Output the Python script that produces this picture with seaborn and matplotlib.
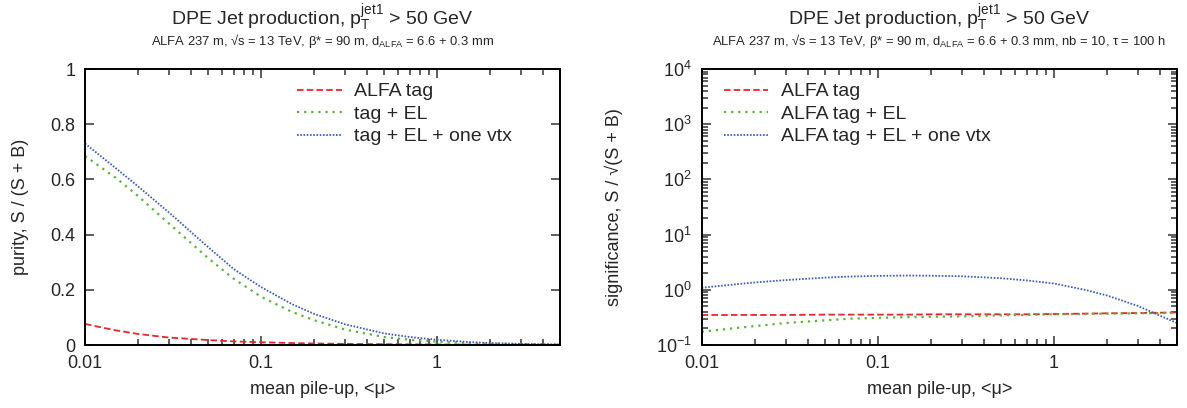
import numpy as np
import pandas as pd
import matplotlib
matplotlib.use("Agg")
import matplotlib.pyplot as plt
from matplotlib.ticker import FixedLocator, FuncFormatter, LogLocator, NullFormatter
import seaborn as sns

# mean pile-up values (x)
mu = [0.01, 0.015, 0.02, 0.03, 0.05, 0.07, 0.1, 0.15, 0.2, 0.3,
      0.5, 0.7, 1.0, 1.5, 2.0, 3.0, 4.0, 5.0]

# purity, S / (S + B)
purity_tag = [0.076, 0.053, 0.040, 0.027, 0.018, 0.013, 0.010, 0.007, 0.0055, 0.004,
              0.003, 0.0025, 0.002, 0.0015, 0.001, 0.0008, 0.0006, 0.0005]
purity_el = [0.685, 0.605, 0.54, 0.44, 0.315, 0.24, 0.175, 0.12, 0.09, 0.056,
             0.029, 0.019, 0.012, 0.007, 0.005, 0.003, 0.002, 0.0015]
purity_vtx = [0.73, 0.64, 0.575, 0.48, 0.355, 0.275, 0.21, 0.148, 0.113, 0.075,
              0.042, 0.029, 0.019, 0.011, 0.007, 0.004, 0.0028, 0.002]

# significance, S / sqrt(S + B)
signif_tag = [0.35, 0.35, 0.35, 0.35, 0.355, 0.355, 0.355, 0.355, 0.36, 0.36,
              0.36, 0.36, 0.365, 0.37, 0.375, 0.38, 0.385, 0.39]
signif_el = [0.174, 0.20, 0.22, 0.25, 0.28, 0.30, 0.31, 0.32, 0.325, 0.33,
             0.345, 0.35, 0.36, 0.365, 0.37, 0.375, 0.378, 0.38]
signif_vtx = [1.09, 1.24, 1.36, 1.50, 1.66, 1.74, 1.79, 1.81, 1.80, 1.76,
              1.62, 1.48, 1.30, 1.00, 0.79, 0.51, 0.34, 0.25]

left_labels = ["ALFA tag", "tag + EL", "tag + EL + one vtx"]
right_labels = ["ALFA tag", "ALFA tag + EL", "ALFA tag + EL + one vtx"]

title = r"DPE Jet production, p$_\mathrm{T}^\mathrm{jet1}$ > 50 GeV"
sub_left = r"ALFA 237 m, √s = 13 TeV, β* = 90 m, d$_\mathrm{ALFA}$ = 6.6 + 0.3 mm"
sub_right = sub_left + ", nb = 10, τ = 100 h"

colors = ["#e8262b", "#5db33a", "#3a5bb8"]
styles = [(0, (3.6, 1.8)), (0, (1.0, 2.2)), (0, (0.9, 0.9))]
widths = [1.3, 1.6, 1.3]

sns.set_style("ticks")
plt.rcParams["font.family"] = ["Liberation Sans", "DejaVu Sans"]
plt.rcParams["mathtext.fontset"] = "custom"
plt.rcParams["mathtext.rm"] = "Liberation Sans"
plt.rcParams["mathtext.it"] = "Liberation Sans:italic"

fig = plt.figure(figsize=(11.87, 4.08), dpi=100)
ax1 = fig.add_axes([85 / 1187, 63 / 408, 475 / 1187, 276 / 408])
ax2 = fig.add_axes([701.7 / 1187, 63 / 408, 475.3 / 1187, 276 / 408])


def draw(ax, series, labels):
    for vals, lab, col, ls, lw in zip(series, labels, colors, styles, widths):
        df = pd.DataFrame({"mu": mu, "val": vals})
        sns.lineplot(data=df, x="mu", y="val", ax=ax, color=col, linestyle=ls,
                     linewidth=lw, label=lab, estimator=None, sort=True)
    ax.set_xscale("log")
    ax.set_xlim(0.01, 5)
    ax.xaxis.set_major_locator(FixedLocator([0.01, 0.1, 1]))
    ax.xaxis.set_major_formatter(FuncFormatter(lambda v, p: f"{v:g}"))
    ax.xaxis.set_minor_locator(LogLocator(base=10, subs=np.arange(2, 10), numticks=20))
    ax.xaxis.set_minor_formatter(NullFormatter())
    ax.tick_params(which="both", direction="in", top=True, right=True,
                   labelsize=13, width=1.1, color="#333333", pad=7)
    ax.tick_params(which="major", length=6.5)
    ax.tick_params(which="minor", length=4.3)
    for s in ax.spines.values():
        s.set_linewidth(1.4)
        s.set_color("black")
    ax.set_xlabel("mean pile-up, <μ>", fontsize=13, labelpad=7)
    ax.text(0.5, 1.159, title, transform=ax.transAxes, ha="center",
            va="baseline", fontsize=14)


def add_legend(ax, x0):
    ax.legend(loc="upper left", bbox_to_anchor=(x0, 0.95), frameon=False,
              fontsize=14, handlelength=2.3, handletextpad=0.65, labelspacing=0.25,
              borderpad=0, borderaxespad=0)


draw(ax1, [purity_tag, purity_el, purity_vtx], left_labels)
ax1.set_ylim(0, 1)
ax1.yaxis.set_major_locator(FixedLocator([0, 0.2, 0.4, 0.6, 0.8, 1.0]))
ax1.yaxis.set_major_formatter(FuncFormatter(lambda v, p: f"{v:g}"))
ax1.set_ylabel("purity, S / (S + B)", fontsize=13, labelpad=15)
ax1.text(0.5, 1.088, sub_left, transform=ax1.transAxes, ha="center",
         va="baseline", fontsize=9.4)
add_legend(ax1, 0.446)

draw(ax2, [signif_tag, signif_el, signif_vtx], right_labels)
ax2.set_yscale("log")
ax2.set_ylim(0.1, 1e4)
ax2.yaxis.set_major_locator(FixedLocator([0.1, 1, 10, 100, 1000, 10000]))
ax2.yaxis.set_major_formatter(
    FuncFormatter(lambda v, p: r"10$^{%d}$" % int(round(np.log10(v)))))
ax2.yaxis.set_minor_locator(LogLocator(base=10, subs=np.arange(2, 10), numticks=20))
ax2.yaxis.set_minor_formatter(NullFormatter())
ax2.tick_params(axis="y", which="minor", length=4.3)
ax2.set_ylabel("significance, S / √(S + B)", fontsize=13, labelpad=24)
ax2.text(0.5, 1.088, sub_right, transform=ax2.transAxes, ha="center",
         va="baseline", fontsize=9.4)
add_legend(ax2, 0.046)

fig.savefig("out.png", dpi=100)
plt.close(fig)
